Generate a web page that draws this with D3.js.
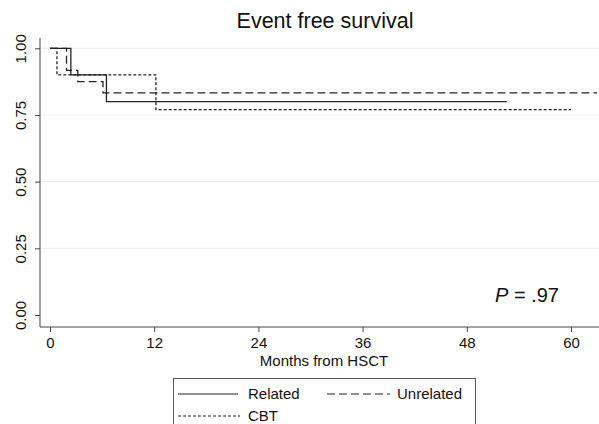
<!DOCTYPE html>
<html><head><meta charset="utf-8">
<script src="https://cdn.jsdelivr.net/npm/d3@7"></script>
<style>body{margin:0;background:#fff;}svg{display:block;font-family:"Liberation Sans",Arial,sans-serif;}</style>
</head><body><svg id="c" width="599" height="424"></svg>
<script>
const xTicks = [0, 12, 24, 36, 48, 60];
const yTicks = [0, 0.25, 0.5, 0.75, 1];
const relatedTime = [0, 2.4, 6.5, 52.6];
const relatedSurv = [1, 0.9, 0.8, 0.8];
const unrelatedTime = [0, 1.9, 3.2, 6.1, 63];
const unrelatedSurv = [1, 0.917, 0.875, 0.833, 0.833];
const cbtTime = [0, 0.8, 12.2, 60];
const cbtSurv = [1, 0.9, 0.77, 0.77];
const seriesNames = ["Related", "Unrelated", "CBT"];

const svg = d3.select("#c");
const x = d3.scaleLinear().domain([0, 60]).range([50, 571]);
const y = d3.scaleLinear().domain([0, 1]).range([315, 48.3]);

// title
svg.append("text").attr("x", 325).attr("y", 28).attr("text-anchor", "middle")
  .attr("font-size", 21.5).attr("fill", "#111").text("Event free survival");

// grid
svg.append("g").selectAll("line").data(yTicks.filter(d => d > 0)).join("line")
  .attr("x1", 41).attr("x2", 599).attr("y1", d => y(d)).attr("y2", d => y(d))
  .attr("stroke", "#ececec").attr("stroke-width", 1);

// y axis
const yAxis = svg.append("g").attr("transform", "translate(40,0)")
  .call(d3.axisLeft(y).tickValues(yTicks).tickFormat(d3.format(".2f")).tickSize(5).tickPadding(0));
yAxis.select(".domain").attr("d", "M0,38V327").attr("stroke", "#444");
yAxis.selectAll(".tick line").attr("stroke", "#444");
yAxis.selectAll(".tick text").attr("font-size", 15).attr("fill", "#111")
  .attr("font-family", "Liberation Sans, Arial, sans-serif")
  .attr("transform", "translate(-14,0) rotate(-90)").attr("text-anchor", "middle").attr("dy", "0").attr("x", 0).attr("y", 0);

// x axis
const xAxis = svg.append("g").attr("transform", "translate(0,327)")
  .call(d3.axisBottom(x).tickValues(xTicks).tickSize(5).tickPadding(5));
xAxis.select(".domain").attr("d", "M40,0H599").attr("stroke", "#444");
xAxis.selectAll(".tick line").attr("stroke", "#444");
xAxis.selectAll(".tick text").attr("font-size", 15).attr("fill", "#111")
  .attr("font-family", "Liberation Sans, Arial, sans-serif");

svg.append("text").attr("x", 324).attr("y", 366).attr("text-anchor", "middle")
  .attr("font-size", 15).attr("fill", "#111").text("Months from HSCT");

// curves
const line = d3.line().x(d => x(d[0])).y(d => y(d[1])).curve(d3.curveStepAfter);
const series = [
  {name: seriesNames[0], t: relatedTime, s: relatedSurv, dash: null},
  {name: seriesNames[1], t: unrelatedTime, s: unrelatedSurv, dash: "8,4"},
  {name: seriesNames[2], t: cbtTime, s: cbtSurv, dash: "3,2"}
];
series.forEach(sr => {
  const pts = sr.t.map((t, i) => [t, sr.s[i]]);
  svg.append("path").attr("d", line(pts)).attr("fill", "none")
    .attr("stroke", "#222").attr("stroke-width", 1.3)
    .attr("stroke-dasharray", sr.dash);
});

// P value
const pt = svg.append("text").attr("x", 495).attr("y", 302).attr("font-size", 20).attr("fill", "#111");
pt.append("tspan").attr("font-style", "italic").text("P");
pt.append("tspan").text(" = .97");

// legend
svg.append("rect").attr("x", 173.5).attr("y", 378.5).attr("width", 302).attr("height", 60)
  .attr("fill", "#fff").attr("stroke", "#555").attr("stroke-width", 1);
const leg = [
  {i: 0, x1: 178, x2: 238, tx: 248, ty: 399},
  {i: 1, x1: 327, x2: 390, tx: 397, ty: 399},
  {i: 2, x1: 178, x2: 240, tx: 248, ty: 421}
];
leg.forEach(l => {
  const sr = series[l.i];
  svg.append("line").attr("x1", l.x1).attr("x2", l.x2).attr("y1", l.ty - 5).attr("y2", l.ty - 5)
    .attr("stroke", "#222").attr("stroke-width", 1.2).attr("stroke-dasharray", sr.dash);
  svg.append("text").attr("x", l.tx).attr("y", l.ty).attr("font-size", 15).attr("fill", "#111").text(sr.name);
});
</script></body></html>
